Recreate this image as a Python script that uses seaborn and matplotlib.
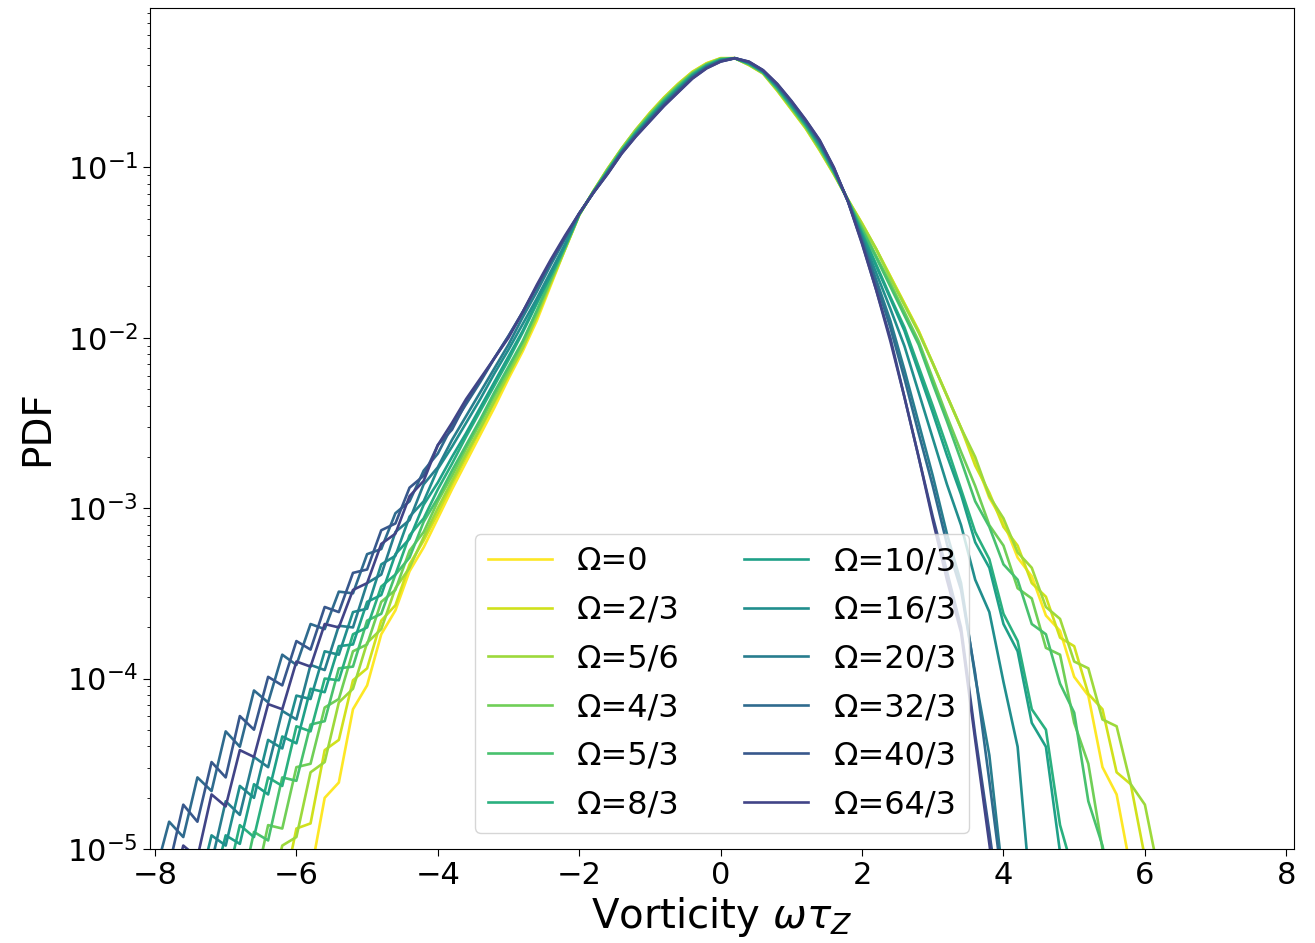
import numpy as np
import pandas as pd
import matplotlib
matplotlib.use("Agg")
import matplotlib.pyplot as plt
import seaborn as sns

# ---------------- data (log10 of PDF) ----------------
vorticity = np.round(np.arange(-8.0, 6.21, 0.2), 1)   # bin grid, 72 points

omega_labels = ["Ω=0", "Ω=2/3", "Ω=5/6", "Ω=4/3", "Ω=5/3", "Ω=8/3",
                "Ω=10/3", "Ω=16/3", "Ω=20/3", "Ω=32/3", "Ω=40/3", "Ω=64/3"]

logpdf_om0 = [None] * 10 + [
    -5.30, -5.15, -4.70, -4.61, -4.18, -4.04, -3.74, -3.60, -3.37, -3.23,
    -3.06, -2.89, -2.73, -2.57, -2.41, -2.24, -2.08, -1.90, -1.69, -1.48,
    -1.28, -1.14, -1.01, -0.89, -0.78, -0.68, -0.59, -0.51, -0.44, -0.39,
    -0.36, -0.36, -0.40, -0.45, -0.55, -0.66, -0.77, -0.90, -1.04, -1.19,
    -1.33, -1.48, -1.64, -1.80, -1.96, -2.15, -2.34, -2.53, -2.72, -2.94,
    -3.08, -3.29, -3.40, -3.63, -3.72, -3.99, -4.10, -4.52, -4.68, -5.12,
    -5.45] + [None]

logpdf_om2_3 = [None] * 8 + [
    -5.35, -5.28,
    -4.88, -4.85, -4.42, -4.36, -4.01, -3.94, -3.66, -3.57, -3.33, -3.19,
    -3.03, -2.86, -2.70, -2.54, -2.38, -2.22, -2.06, -1.88, -1.68, -1.48,
    -1.28, -1.14, -1.01, -0.89, -0.78, -0.68, -0.59, -0.51, -0.44, -0.39,
    -0.36, -0.36, -0.40, -0.45, -0.55, -0.66, -0.77, -0.90, -1.04, -1.19,
    -1.33, -1.48, -1.64, -1.80, -1.96, -2.15, -2.34, -2.53, -2.75, -2.91,
    -3.11, -3.22, -3.44, -3.52, -3.76, -3.81, -4.09, -4.18, -4.55, -4.62,
    -5.05, -5.12]

logpdf_om5_6 = [None] * 8 + [
    -5.32, -4.98,
    -4.93, -4.55, -4.49, -4.14, -4.06, -3.79, -3.71, -3.47, -3.35, -3.17,
    -3.00, -2.84, -2.68, -2.53, -2.37, -2.21, -2.06, -1.87, -1.67, -1.48,
    -1.28, -1.14, -1.01, -0.89, -0.78, -0.685, -0.595, -0.515, -0.445, -0.395,
    -0.362, -0.36, -0.398, -0.448, -0.546, -0.655, -0.765, -0.895, -1.036, -1.19,
    -1.335, -1.48, -1.65, -1.81, -1.97, -2.15, -2.34, -2.53, -2.70, -2.93,
    -3.06, -3.26, -3.35, -3.58, -3.65, -3.90, -3.94, -4.24, -4.28, -4.62,
    -4.74, -5.15]

logpdf_om4_3 = [None] * 6 + [
    -5.28, -5.24, -4.86, -4.88,
    -4.52, -4.50, -4.17, -4.12, -3.84, -3.80, -3.55, -3.48, -3.25, -3.14,
    -2.96, -2.81, -2.65, -2.50, -2.34, -2.19, -2.03, -1.85, -1.66, -1.47,
    -1.278, -1.142, -1.016, -0.896, -0.788, -0.69, -0.60, -0.52, -0.448, -0.396,
    -0.364, -0.36, -0.396, -0.446, -0.542, -0.65, -0.76, -0.888, -1.032, -1.192,
    -1.354, -1.52, -1.68, -1.85, -2.02, -2.24, -2.46, -2.67, -2.87, -3.10,
    -3.22, -3.47, -3.53, -3.82, -3.86, -4.26, -4.50, -5.00, -5.20] + [None] * 3

logpdf_om5_3 = [None] * 5 + [
    -5.30, -5.28, -4.90, -4.95, -4.58,
    -4.60, -4.27, -4.25, -3.94, -3.93, -3.66, -3.62, -3.39, -3.29, -3.08,
    -2.94, -2.78, -2.63, -2.48, -2.32, -2.17, -2.02, -1.84, -1.65, -1.47,
    -1.277, -1.143, -1.019, -0.899, -0.792, -0.695, -0.605, -0.525, -0.452, -0.399,
    -0.366, -0.36, -0.394, -0.444, -0.538, -0.645, -0.755, -0.882, -1.028, -1.193,
    -1.366, -1.53, -1.70, -1.87, -2.04, -2.27, -2.49, -2.72, -2.96, -3.11,
    -3.33, -3.42, -3.68, -3.74, -4.03, -4.20, -4.72, -4.98, -5.40] + [None] * 3

logpdf_om8_3 = [None] * 4 + [
    -5.20, -5.22, -4.86, -4.93, -4.58, -4.63,
    -4.28, -4.31, -4.00, -4.01, -3.74, -3.70, -3.46, -3.39, -3.16, -3.06,
    -2.89, -2.74, -2.58, -2.43, -2.28, -2.13, -1.97, -1.80, -1.63, -1.46,
    -1.275, -1.145, -1.024, -0.904, -0.798, -0.703, -0.613, -0.533, -0.458, -0.404,
    -0.369, -0.36, -0.391, -0.441, -0.532, -0.638, -0.748, -0.873, -1.022, -1.195,
    -1.384, -1.57, -1.76, -1.94, -2.17, -2.40, -2.64, -2.89, -3.14, -3.30,
    -3.62, -3.78, -4.18, -4.30, -4.86, -5.15, -5.40] + [None] * 5

logpdf_om10_3 = [None] * 3 + [
    -5.20, -5.25, -4.92, -4.97, -4.62, -4.68, -4.34,
    -4.38, -4.06, -4.08, -3.81, -3.80, -3.55, -3.51, -3.27, -3.18, -2.98,
    -2.85, -2.70, -2.56, -2.41, -2.26, -2.11, -1.96, -1.79, -1.63, -1.46,
    -1.274, -1.146, -1.027, -0.907, -0.802, -0.708, -0.618, -0.538, -0.462, -0.407,
    -0.371, -0.36, -0.389, -0.439, -0.528, -0.633, -0.743, -0.867, -1.018, -1.196,
    -1.396, -1.58, -1.77, -1.96, -2.20, -2.44, -2.69, -2.92, -3.20, -3.35,
    -3.68, -3.84, -4.26, -4.40, -5.02, -5.30] + [None] * 6

logpdf_om16_3 = [None] * 2 + [
    -5.22, -5.26, -4.92, -4.98, -4.63, -4.70, -4.36, -4.41,
    -4.10, -4.12, -3.84, -3.86, -3.61, -3.59, -3.33, -3.28, -3.05, -2.96,
    -2.77, -2.64, -2.50, -2.36, -2.21, -2.07, -1.92, -1.77, -1.61, -1.45,
    -1.274, -1.147, -1.03, -0.91, -0.806, -0.713, -0.623, -0.543, -0.466, -0.41,
    -0.373, -0.36, -0.387, -0.437, -0.524, -0.628, -0.738, -0.861, -1.014, -1.197,
    -1.408, -1.62, -1.83, -2.05, -2.32, -2.59, -2.86, -3.10, -3.42, -3.61,
    -4.02, -4.40, -5.35] + [None] * 9

logpdf_om20_3 = [None] * 2 + [
    -5.30, -5.02, -5.08, -4.72, -4.80, -4.46, -4.52, -4.19,
    -4.24, -3.92, -3.95, -3.69, -3.70, -3.44, -3.39, -3.14, -3.07, -2.86,
    -2.76, -2.60, -2.46, -2.32, -2.18, -2.04, -1.88, -1.73, -1.57, -1.42,
    -1.272, -1.148, -1.032, -0.912, -0.81, -0.718, -0.628, -0.548, -0.47, -0.412,
    -0.375, -0.36, -0.385, -0.435, -0.52, -0.622, -0.732, -0.855, -1.01, -1.198,
    -1.42, -1.66, -1.90, -2.19, -2.50, -2.81, -3.15, -3.44, -3.99, -4.45,
    -5.20] + [None] * 11

logpdf_om32_3 = [
    -5.15, -4.84, -4.93, -4.58, -4.66, -4.31, -4.40, -4.07, -4.14, -3.86,
    -3.92, -3.68, -3.71, -3.49, -3.50, -3.27, -3.24, -3.03, -2.96, -2.78,
    -2.68, -2.52, -2.39, -2.26, -2.12, -1.99, -1.85, -1.70, -1.55, -1.41,
    -1.272, -1.148, -1.036, -0.916, -0.814, -0.722, -0.632, -0.552, -0.474, -0.416,
    -0.377, -0.36, -0.383, -0.433, -0.516, -0.618, -0.728, -0.849, -1.006, -1.198,
    -1.432, -1.68, -1.94, -2.24, -2.56, -2.87, -3.21, -3.48, -3.97, -4.60,
    -5.25] + [None] * 11

logpdf_om40_3 = [
    -5.02, -5.10, -4.74, -4.84, -4.49, -4.58, -4.22, -4.30, -3.99, -4.04,
    -3.78, -3.83, -3.58, -3.61, -3.38, -3.36, -3.13, -3.09, -2.88, -2.81,
    -2.63, -2.54, -2.38, -2.25, -2.12, -1.99, -1.85, -1.70, -1.55, -1.41,
    -1.27, -1.15, -1.038, -0.918, -0.818, -0.728, -0.638, -0.558, -0.478, -0.418,
    -0.379, -0.36, -0.381, -0.431, -0.512, -0.612, -0.722, -0.843, -1.002, -1.20,
    -1.444, -1.72, -2.00, -2.35, -2.70, -3.05, -3.37, -3.70, -4.33, -4.90,
    -5.50] + [None] * 11

logpdf_om64_3 = [None] + [
    -5.30, -4.98, -5.05, -4.68, -4.75, -4.42, -4.46, -4.15, -4.18,
    -3.90, -3.93, -3.68, -3.70, -3.48, -3.44, -3.21, -3.15, -2.93, -2.84,
    -2.63, -2.50, -2.36, -2.24, -2.12, -2.00, -1.85, -1.69, -1.54, -1.40,
    -1.27, -1.15, -1.04, -0.92, -0.82, -0.73, -0.64, -0.56, -0.48, -0.42,
    -0.38, -0.36, -0.38, -0.43, -0.51, -0.61, -0.72, -0.84, -1.00, -1.20,
    -1.45, -1.72, -2.02, -2.35, -2.70, -3.07, -3.42, -3.73, -4.36, -4.97,
    -5.60] + [None] * 11

series = [logpdf_om0, logpdf_om2_3, logpdf_om5_6, logpdf_om4_3, logpdf_om5_3,
          logpdf_om8_3, logpdf_om10_3, logpdf_om16_3, logpdf_om20_3,
          logpdf_om32_3, logpdf_om40_3, logpdf_om64_3]

rows = []
for lab, vals in zip(omega_labels, series):
    assert len(vals) == len(vorticity), (lab, len(vals))
    for xv, v in zip(vorticity, vals):
        if v is not None:
            rows.append((float(xv), 10.0 ** v, lab))
df = pd.DataFrame(rows, columns=["vort", "pdf", "omega"])

# ---------------- plotting ----------------
colors = [tuple(c) for c in plt.cm.viridis(np.linspace(1.0, 0.2, len(omega_labels)))]

fig = plt.figure(figsize=(13.15, 9.43), dpi=100)
ax = fig.add_axes([0.1141, 0.0997, 0.870, 0.8918])

sns.lineplot(data=df, x="vort", y="pdf", hue="omega", hue_order=omega_labels,
             palette=colors, estimator=None, sort=False, linewidth=1.9,
             ax=ax, legend=True)

ax.set_yscale("log")
ax.set_ylim(1e-5, 0.86)
ax.set_xlim(-8.07, 8.11)
ax.set_xticks(np.arange(-8, 9, 2))

ax.set_xlabel(r"Vorticity $\omega\tau_Z$", fontsize=29)
ax.set_ylabel("PDF", fontsize=28, labelpad=8)
ax.tick_params(axis="both", which="major", labelsize=22, length=5)

sns.move_legend(ax, "lower center", ncol=2, title=None, fontsize=23,
                frameon=True, columnspacing=2.0, handlelength=2.0,
                labelspacing=0.55)

fig.savefig("out.png", dpi=100)
